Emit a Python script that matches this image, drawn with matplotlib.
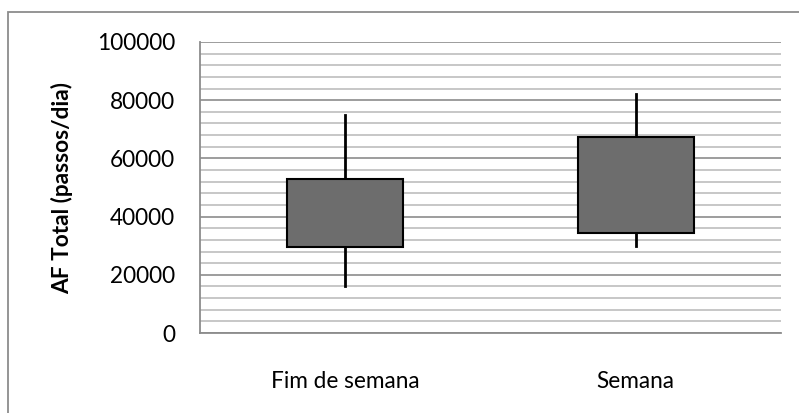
import matplotlib.pyplot as plt
from matplotlib.patches import Rectangle
from matplotlib.ticker import MultipleLocator

categorias = ["Fim de semana", "Semana"]
minimo = [16000, 30000]
q1 = [29700, 34500]
q3 = [53000, 67500]
maximo = [75000, 82000]

plt.rcParams['font.family'] = ['Lato', 'DejaVu Sans']

fig = plt.figure(figsize=(7.99, 4.13), dpi=100)
ax = fig.add_axes([200/799, 1-333/413, 581/799, 291/413])

larg = 0.4
for i in range(len(categorias)):
    ax.plot([i, i], [minimo[i], q1[i]], color="black", lw=2, zorder=3)
    ax.plot([i, i], [q3[i], maximo[i]], color="black", lw=2, zorder=3)
    ax.add_patch(Rectangle((i - larg/2, q1[i]), larg, q3[i] - q1[i],
                           facecolor="#6d6d6d", edgecolor="black", lw=1.5, zorder=4))

ax.set_xlim(-0.5, 1.5)
ax.set_ylim(0, 100000)
ax.set_xticks(range(len(categorias)))
ax.set_xticklabels(categorias, fontsize=16.3)
ax.yaxis.set_major_locator(MultipleLocator(20000))
ax.yaxis.set_minor_locator(MultipleLocator(4000))
ax.tick_params(axis='y', labelsize=16.3, length=0, which='both', pad=18)
ax.tick_params(axis='x', length=0, pad=27)
ax.grid(True, which='major', axis='y', color="#8c8c8c", lw=1.2, zorder=0)
ax.grid(True, which='minor', axis='y', color="#bdbdbd", lw=1.2, zorder=0)
for s in ["top", "right"]:
    ax.spines[s].set_visible(False)
ax.spines["left"].set_color("#8c8c8c")
ax.spines["bottom"].set_color("#8c8c8c")
ax.spines["left"].set_linewidth(1.3)
ax.spines["bottom"].set_linewidth(1.3)
ax.set_ylabel("AF Total (passos/dia)", fontsize=16.3, fontweight="bold", labelpad=17)

fig.patches.append(Rectangle((8/799, -0.1), 1.1, 1.1 - 12/413, transform=fig.transFigure,
                             fill=False, edgecolor="#8c8c8c", lw=1.3))

fig.savefig("out.png", dpi=100)
